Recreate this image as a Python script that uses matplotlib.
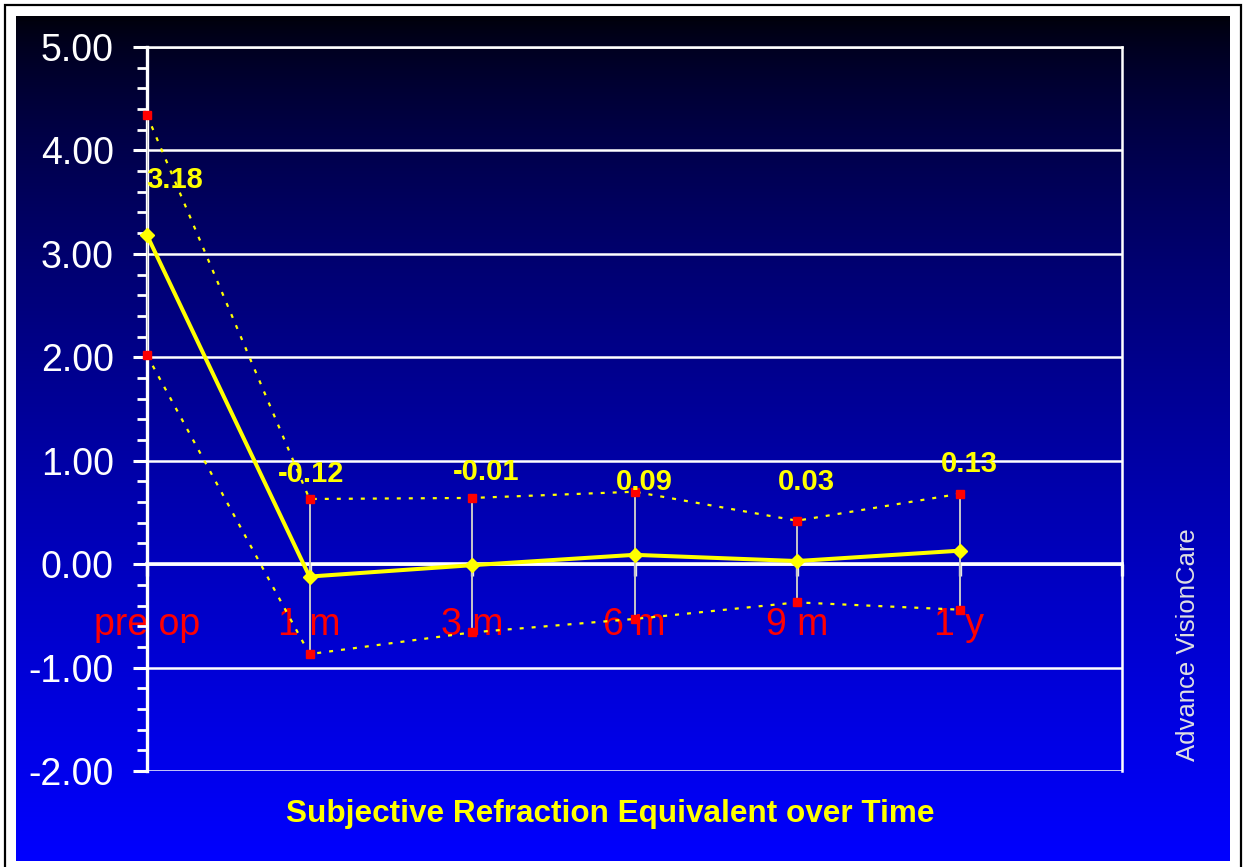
import numpy as np
import matplotlib
matplotlib.use("Agg")
import matplotlib.pyplot as plt
from matplotlib.ticker import MultipleLocator, FixedLocator
from matplotlib.patches import Rectangle

plt.rcParams['font.family'] = ['Liberation Sans', 'DejaVu Sans']

# ---- data ----
categories = ["pre op", "1 m", "3 m", "6 m", "9 m", "1 y"]
mean_values = [3.18, -0.12, -0.01, 0.09, 0.03, 0.13]
upper_values = [4.34, 0.63, 0.64, 0.70, 0.42, 0.68]
lower_values = [2.02, -0.87, -0.66, -0.53, -0.37, -0.44]
y_ticks = [-2, -1, 0, 1, 2, 3, 4, 5]
title_text = "Subjective Refraction Equivalent over Time"
side_text = "Advance VisionCare"

# label placement (data coords) for the value labels
label_dx = [0.17, 0.01, 0.09, 0.06, 0.06, 0.06]
label_base_y = [3.64, 0.79, 0.81, 0.72, 0.72, 0.89]

W, H = 1243, 867
fig = plt.figure(figsize=(W / 100, H / 100), dpi=100)
fig.patch.set_facecolor('white')

def fx(px):
    return px / W

def fy(py):
    return 1 - py / H

# gradient background panel
bg = fig.add_axes([fx(16), fy(861), fx(1230 - 16), (861 - 16) / H])
t = np.linspace(0, 1, 512)[:, None]
blue = 0.03 + 0.97 * t ** 0.7
img = np.zeros((512, 2, 3))
img[..., 2] = blue
bg.imshow(img, aspect='auto', extent=[0, 1, 1, 0])
bg.set_axis_off()

# outer black frame
fig.patches.append(Rectangle((fx(5), -0.05), fx(1241 - 5), fy(5) + 0.05,
                             transform=fig.transFigure, fill=False,
                             edgecolor='black', linewidth=1.6, zorder=0))

# main axes
ax = fig.add_axes([fx(147), fy(771), fx(1122 - 147), (771 - 47) / H])
ax.patch.set_alpha(0)
x = np.arange(len(categories))
ax.set_xlim(0, 6)
ax.set_ylim(-2, 5)

# grid
ax.yaxis.set_major_locator(FixedLocator(y_ticks))
ax.yaxis.set_minor_locator(MultipleLocator(0.2))
ax.set_yticklabels([f"{v:.2f}" for v in y_ticks])
ax.grid(axis='y', which='major', color='white', linewidth=1.8, zorder=1)
ax.set_axisbelow(True)

for s in ['top', 'right']:
    ax.spines[s].set_color('white')
    ax.spines[s].set_linewidth(1.8)
ax.spines['left'].set_color('white')
ax.spines['left'].set_linewidth(2.4)
ax.spines['bottom'].set_position(('data', 0))
ax.spines['bottom'].set_color('white')
ax.spines['bottom'].set_linewidth(2.6)

ax.tick_params(axis='y', which='major', direction='out', length=10, width=2.2,
               color='white', labelcolor='white', labelsize=27, pad=14)
ax.tick_params(axis='y', which='minor', direction='out', length=7, width=2.0,
               color='white')
ax.set_xticks(np.arange(0, 7))
ax.set_xticklabels(categories + [""])
ax.tick_params(axis='x', which='major', direction='out', length=8.5, width=2.4,
               color='#E6E6E6', labelcolor='#FF0000', labelsize=27, pad=22)

# error bars
mean_arr = np.array(mean_values)
yerr = [mean_arr - np.array(lower_values), np.array(upper_values) - mean_arr]
ax.errorbar(x, mean_values, yerr=yerr, fmt='none', ecolor='#C8C8C8',
            elinewidth=1.4, capsize=0, zorder=3)

# upper / lower dotted lines with red squares
dots = (0, (1.8, 3.6))
for series in (upper_values, lower_values):
    ax.plot(x, series, linestyle=dots, color='#FFFF00', linewidth=1.6,
            marker='s', markersize=6, markerfacecolor='#FF0000',
            markeredgecolor='#FF0000', zorder=4, clip_on=False)

# mean line
ax.plot(x, mean_values, color='#FFFF00', linewidth=2.9, marker='D',
        markersize=7, markerfacecolor='#FFFF00', markeredgecolor='#FFFF00',
        zorder=5, clip_on=False)

# value labels
for xi, v, dx, by in zip(x, mean_values, label_dx, label_base_y):
    ax.text(xi + dx, by, f"{v:.2f}", color='#FFFF00', fontsize=21,
            fontweight='bold', ha='center', va='baseline', zorder=6)

# title and side text
fig.text(fx(610), fy(822), title_text, color='#FFFF00', fontsize=22.7,
         fontweight='bold', ha='center', va='baseline')
fig.text(fx(1188), fy(645), side_text, color='#E0E0E0', fontsize=18.5,
         rotation=90, ha='center', va='center')

fig.savefig("out.png", dpi=100, facecolor=fig.get_facecolor())
